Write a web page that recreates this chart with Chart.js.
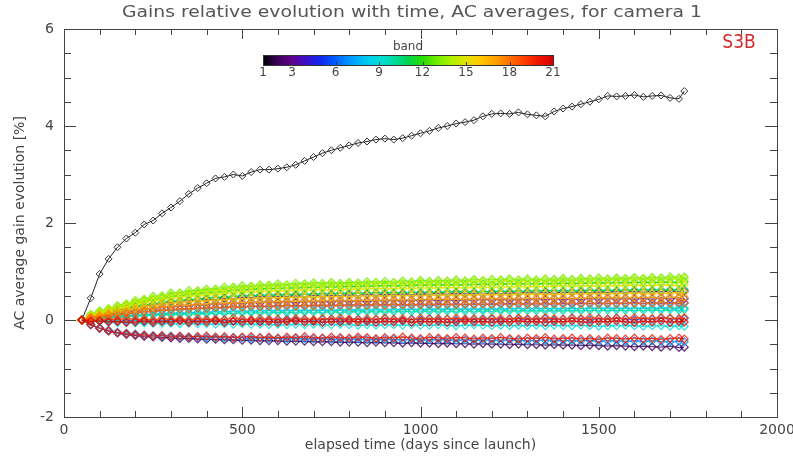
<!DOCTYPE html>
<html>
<head>
<meta charset="utf-8">
<script src="https://cdn.jsdelivr.net/npm/chart.js@4/dist/chart.umd.min.js"></script>
<style>
  html, body { margin: 0; padding: 0; background: #fff; }
</style>
</head>
<body>
<canvas id="gainChart" width="793" height="459"></canvas>
<script>
// elapsed time (days since launch), shared by all bands
const days = [50, 75, 100, 125, 150, 175, 200, 225, 250, 275,
  300, 325, 350, 375, 400, 425, 450, 475, 500, 525,
  550, 575, 600, 625, 650, 675, 700, 725, 750, 775,
  800, 825, 850, 875, 900, 925, 950, 975, 1000, 1025,
  1050, 1075, 1100, 1125, 1150, 1175, 1200, 1225, 1250, 1275,
  1300, 1325, 1350, 1375, 1400, 1425, 1450, 1475, 1500, 1525,
  1550, 1575, 1600, 1625, 1650, 1675, 1700, 1725, 1740];

// AC average gain evolution [%] per band
const band1 = [0, 0.45, 0.95, 1.26, 1.5, 1.68, 1.8, 1.97, 2.05, 2.2,
  2.32, 2.45, 2.6, 2.72, 2.82, 2.92, 2.95, 3.0, 2.97, 3.05,
  3.1, 3.1, 3.12, 3.15, 3.2, 3.28, 3.36, 3.44, 3.5, 3.55,
  3.6, 3.65, 3.68, 3.72, 3.74, 3.72, 3.75, 3.8, 3.85, 3.9,
  3.96, 4.0, 4.05, 4.08, 4.12, 4.2, 4.25, 4.26, 4.25, 4.28,
  4.24, 4.22, 4.2, 4.3, 4.36, 4.4, 4.45, 4.5, 4.55, 4.62,
  4.61, 4.62, 4.64, 4.6, 4.62, 4.63, 4.58, 4.56, 4.72];
const band2 = [0, -.10, -.17, -.23, -.27, -.30, -.32, -.34, -.35, -.36,
  -.37, -.38, -.38, -.39, -.40, -.40, -.41, -.41, -.42, -.42,
  -.43, -.43, -.43, -.44, -.44, -.44, -.45, -.45, -.45, -.46,
  -.46, -.46, -.47, -.46, -.47, -.47, -.48, -.47, -.48, -.48,
  -.49, -.48, -.49, -.49, -.50, -.49, -.50, -.50, -.51, -.50,
  -.51, -.51, -.52, -.51, -.52, -.52, -.53, -.52, -.53, -.54,
  -.53, -.54, -.55, -.54, -.55, -.56, -.54, -.57, -.56];
const band3 = [0, .06, .11, .15, .20, .22, .27, .28, .32, .33,
  .37, .37, .40, .40, .43, .42, .45, .44, .47, .46,
  .48, .47, .49, .48, .50, .48, .51, .49, .51, .50,
  .52, .50, .53, .51, .53, .52, .54, .52, .54, .53,
  .55, .53, .55, .54, .55, .53, .56, .54, .56, .55,
  .57, .55, .57, .55, .58, .56, .58, .56, .58, .57,
  .59, .57, .59, .57, .59, .58, .60, .58, .60];
const band4 = [0, .06, .08, .13, .14, .18, .19, .23, .23, .27,
  .27, .30, .29, .32, .31, .34, .33, .35, .34, .37,
  .35, .38, .36, .38, .36, .39, .37, .39, .37, .40,
  .38, .40, .38, .41, .39, .41, .39, .41, .40, .42,
  .40, .42, .40, .42, .41, .43, .41, .43, .41, .43,
  .42, .44, .42, .44, .42, .44, .42, .45, .43, .45,
  .43, .45, .43, .45, .43, .46, .43, .46, .44];
const band5 = [0, .04, .07, .09, .11, .13, .15, .17, .18, .20,
  .21, .22, .23, .24, .24, .25, .26, .27, .27, .28,
  .28, .28, .29, .29, .29, .29, .30, .29, .30, .30,
  .30, .31, .30, .31, .31, .31, .31, .31, .32, .31,
  .32, .32, .32, .32, .32, .33, .32, .33, .33, .33,
  .33, .33, .33, .33, .34, .33, .34, .34, .34, .34,
  .34, .34, .35, .34, .35, .34, .35, .34, .35];
const band6 = [0, -.01, -.02, -.01, -.03, -.02, -.01, -.03, -.02, -.01,
  -.02, .00, -.02, -.01, .01, -.01, .00, -.02, .01, .00,
  -.01, .01, .00, .02, .00, .01, -.01, .01, .02, .00,
  .01, .02, .00, .01, .03, .01, .00, .02, .01, .03,
  .01, .02, .00, .02, .01, .03, .02, .00, .02, .03,
  .01, .02, .03, .01, .02, .04, .02, .01, .03, .02,
  .04, .02, .01, .03, .02, .04, .03, .02, .03];
const band7 = [0, -.09, -.16, -.21, -.25, -.27, -.29, -.31, -.32, -.33,
  -.33, -.34, -.35, -.35, -.36, -.36, -.37, -.36, -.37, -.38,
  -.37, -.38, -.38, -.39, -.38, -.39, -.39, -.38, -.40, -.39,
  -.40, -.39, -.40, -.41, -.40, -.40, -.41, -.40, -.41, -.41,
  -.40, -.41, -.42, -.41, -.42, -.41, -.42, -.42, -.41, -.42,
  -.43, -.42, -.42, -.43, -.42, -.43, -.43, -.42, -.44, -.43,
  -.43, -.44, -.43, -.44, -.43, -.44, -.45, -.44, -.45];
const band8 = [0, .03, .04, .06, .07, .09, .10, .11, .12, .13,
  .14, .14, .15, .16, .16, .17, .17, .18, .18, .18,
  .19, .19, .19, .19, .20, .19, .20, .20, .20, .20,
  .21, .20, .21, .21, .21, .21, .21, .22, .21, .22,
  .22, .22, .22, .22, .22, .22, .23, .22, .23, .23,
  .23, .23, .23, .23, .23, .24, .23, .24, .24, .24,
  .24, .24, .24, .24, .25, .24, .25, .24, .25];
const band9 = [0, -.02, -.03, -.04, -.05, -.05, -.06, -.06, -.07, -.07,
  -.07, -.08, -.07, -.08, -.08, -.09, -.08, -.09, -.08, -.09,
  -.09, -.10, -.09, -.10, -.09, -.10, -.09, -.10, -.10, -.09,
  -.10, -.11, -.10, -.11, -.10, -.10, -.11, -.10, -.11, -.11,
  -.10, -.11, -.12, -.11, -.10, -.11, -.12, -.11, -.12, -.11,
  -.12, -.11, -.12, -.11, -.12, -.12, -.11, -.12, -.13, -.12,
  -.12, -.11, -.12, -.13, -.12, -.12, -.13, -.12, -.13];
const band10 = [0, .02, .04, .05, .06, .07, .08, .09, .10, .11,
  .11, .12, .12, .13, .13, .14, .14, .14, .15, .15,
  .15, .15, .16, .15, .16, .16, .16, .16, .17, .16,
  .17, .17, .17, .17, .17, .17, .18, .17, .18, .18,
  .18, .18, .18, .18, .18, .19, .18, .19, .19, .19,
  .19, .19, .19, .19, .19, .20, .19, .20, .20, .20,
  .20, .20, .20, .20, .21, .20, .21, .20, .21];
const band11 = [0, .07, .12, .17, .20, .24, .28, .31, .33, .36,
  .38, .40, .42, .43, .45, .46, .47, .48, .50, .50,
  .51, .51, .52, .52, .53, .53, .53, .54, .54, .55,
  .55, .55, .55, .56, .56, .56, .56, .57, .57, .57,
  .57, .58, .58, .58, .58, .58, .59, .59, .59, .59,
  .59, .60, .60, .60, .60, .60, .61, .61, .61, .61,
  .61, .61, .62, .62, .62, .62, .62, .62, .63];
const band12 = [0, .09, .15, .20, .26, .30, .35, .39, .42, .45,
  .49, .50, .53, .55, .56, .58, .59, .61, .62, .63,
  .64, .65, .65, .66, .66, .67, .67, .68, .68, .69,
  .69, .69, .70, .70, .71, .70, .71, .71, .72, .72,
  .72, .73, .72, .73, .73, .74, .73, .74, .74, .75,
  .74, .75, .75, .75, .76, .75, .76, .76, .77, .76,
  .77, .77, .77, .78, .77, .78, .78, .77, .79];
const band13 = [0, .12, .19, .23, .30, .33, .41, .43, .49, .50,
  .56, .56, .61, .61, .64, .64, .68, .68, .71, .70,
  .73, .72, .75, .73, .76, .75, .77, .76, .78, .76,
  .78, .77, .79, .78, .80, .78, .81, .79, .82, .80,
  .82, .81, .83, .81, .84, .82, .84, .83, .85, .83,
  .85, .83, .85, .84, .86, .84, .86, .85, .87, .85,
  .87, .86, .88, .86, .88, .87, .89, .87, .89];
const band14 = [0, .10, .17, .24, .27, .33, .37, .43, .45, .49,
  .52, .55, .56, .59, .60, .62, .63, .66, .66, .68,
  .69, .70, .70, .71, .71, .72, .73, .72, .74, .73,
  .75, .74, .75, .76, .75, .76, .77, .76, .78, .77,
  .78, .78, .79, .78, .80, .79, .79, .80, .81, .79,
  .81, .80, .82, .80, .82, .81, .82, .83, .82, .83,
  .83, .82, .84, .83, .84, .83, .85, .84, .85];
const band15 = [0, .08, .14, .19, .24, .28, .32, .36, .39, .42,
  .45, .47, .49, .50, .52, .53, .55, .56, .58, .58,
  .59, .60, .61, .60, .61, .62, .62, .63, .62, .63,
  .63, .64, .64, .65, .64, .65, .66, .65, .66, .66,
  .66, .67, .67, .66, .68, .67, .68, .68, .68, .69,
  .69, .69, .69, .70, .70, .70, .70, .71, .70, .71,
  .71, .71, .72, .71, .72, .72, .72, .71, .73];
const band16 = [0, .07, .10, .16, .17, .22, .24, .28, .29, .33,
  .34, .37, .37, .40, .39, .42, .41, .44, .43, .45,
  .45, .46, .46, .47, .46, .48, .47, .48, .48, .49,
  .48, .50, .49, .50, .49, .51, .50, .51, .50, .52,
  .51, .52, .51, .52, .52, .53, .52, .53, .52, .54,
  .53, .54, .53, .54, .53, .55, .54, .55, .54, .55,
  .54, .56, .55, .56, .55, .56, .55, .57, .56];
const band17 = [0, .05, .10, .12, .16, .17, .21, .22, .25, .26,
  .29, .29, .31, .31, .33, .33, .35, .34, .36, .36,
  .37, .37, .38, .37, .39, .38, .39, .39, .40, .39,
  .40, .40, .41, .40, .41, .41, .42, .41, .42, .42,
  .43, .42, .43, .42, .43, .43, .44, .43, .44, .43,
  .44, .44, .45, .44, .45, .44, .45, .45, .46, .45,
  .46, .45, .46, .46, .46, .45, .47, .46, .47];
const band18 = [0, .05, .06, .10, .10, .14, .14, .18, .17, .21,
  .20, .23, .22, .25, .23, .26, .25, .28, .26, .29,
  .27, .29, .28, .30, .28, .30, .29, .31, .29, .31,
  .29, .32, .30, .32, .30, .32, .31, .32, .31, .33,
  .31, .33, .31, .33, .32, .33, .32, .34, .32, .34,
  .32, .34, .33, .34, .33, .35, .33, .35, .33, .35,
  .34, .35, .34, .35, .34, .36, .34, .36, .35];
const band19 = [0, .01, .00, .02, .01, .03, .01, .02, .00, .03,
  .01, .02, .00, .03, .01, .02, .01, .04, .02, .01,
  .03, .01, .02, .00, .03, .02, .01, .03, .02, .04,
  .02, .01, .03, .02, .04, .02, .03, .01, .04, .02,
  .03, .02, .04, .02, .03, .01, .04, .03, .02, .04,
  .03, .02, .05, .03, .02, .04, .03, .05, .03, .02,
  .04, .03, .05, .04, .03, .05, .04, .03, .05];
const band20 = [0, -.10, -.17, -.22, -.26, -.28, -.30, -.31, -.33, -.32,
  -.34, -.33, -.35, -.34, -.33, -.35, -.34, -.36, -.35, -.34,
  -.36, -.35, -.37, -.35, -.36, -.34, -.36, -.37, -.35, -.36,
  -.37, -.35, -.36, -.38, -.36, -.37, -.35, -.37, -.38, -.36,
  -.37, -.38, -.36, -.37, -.39, -.37, -.38, -.36, -.38, -.39,
  -.37, -.38, -.36, -.39, -.38, -.37, -.39, -.38, -.40, -.37,
  -.38, -.39, -.37, -.39, -.38, -.40, -.38, -.37, -.39];
const band21 = [0, -.03, -.02, -.04, -.03, -.05, -.04, -.02, -.05, -.03,
  -.04, -.02, -.05, -.03, -.04, -.02, -.05, -.03, -.04, -.02,
  -.04, -.03, -.05, -.03, -.02, -.04, -.03, -.05, -.03, -.04,
  -.02, -.04, -.03, -.05, -.03, -.04, -.02, -.05, -.03, -.04,
  -.03, -.05, -.04, -.02, -.04, -.03, -.05, -.03, -.04, -.02,
  -.04, -.03, -.05, -.03, -.04, -.02, -.04, -.05, -.03, -.04,
  -.02, -.04, -.05, -.03, -.04, -.02, -.05, -.03, -.04];

const bands = [band1, band2, band3, band4, band5, band6, band7, band8, band9, band10,
  band11, band12, band13, band14, band15, band16, band17, band18, band19, band20, band21];

// rainbow colour table, one entry per band
const bandColors = ['#000000', '#3c0058', '#620090', '#3a10c8', '#1028f0', '#0060ff', '#0098ff',
  '#00c4f4', '#00dcdc', '#00dca0', '#00d450', '#28dc00', '#70ec00', '#b0f000', '#e0e400',
  '#ffc800', '#ffa000', '#ff7000', '#ff4000', '#f01400', '#d80000'];
const barTicks = [1, 3, 6, 9, 12, 15, 18, 21];

const xTickLabels = [0, 500, 1000, 1500, 2000];
const yTickLabels = [-2, 0, 2, 4, 6];

const textColor = '#444';
const fontFamily = '"DejaVu Sans", sans-serif';

// hollow diamonds joined by thin lines, band 21 drawn last (on top)
const datasets = bands.map((vals, i) => ({
  label: 'band ' + (i + 1),
  data: days.map((d, k) => ({ x: d, y: vals[k] })),
  borderColor: i === 0 ? '#222' : bandColors[i] + 'c8',
  pointBorderColor: i === 0 ? '#333' : bandColors[i] + 'c8',
  pointBackgroundColor: 'rgba(255,255,255,0)',
  pointStyle: 'rectRot',
  pointRadius: i === 0 ? 3.5 : 3.8,
  pointBorderWidth: i === 0 ? 1 : 1.3,
  borderWidth: i === 0 ? 1 : 1.2,
  order: bands.length - i
}));

// box, inside ticks, colour bar, title and the S3B mark
const decorPlugin = {
  id: 'decor',
  afterDraw(chart) {
    const { ctx, chartArea: a, scales: { x, y } } = chart;
    ctx.save();
    ctx.strokeStyle = '#444';
    ctx.lineWidth = 1;
    ctx.strokeRect(Math.round(a.left) + 0.5, Math.round(a.top) + 0.5,
      Math.round(a.width), Math.round(a.height));

    ctx.beginPath();
    for (let v = 0; v <= 2000; v += 100) {
      const px = Math.round(x.getPixelForValue(v)) + 0.5;
      const len = v % 500 === 0 ? 10 : 6;
      ctx.moveTo(px, a.bottom); ctx.lineTo(px, a.bottom - len);
      ctx.moveTo(px, a.top); ctx.lineTo(px, a.top + len);
    }
    for (let k = 0; k <= 16; k++) {
      const v = -2 + k * 0.5;
      const py = Math.round(y.getPixelForValue(v)) + 0.5;
      const len = k % 4 === 0 ? 12 : 7;
      ctx.moveTo(a.left, py); ctx.lineTo(a.left + len, py);
      ctx.moveTo(a.right, py); ctx.lineTo(a.right - len, py);
    }
    ctx.stroke();

    // colour bar
    const bx0 = 263, bx1 = 553, by = 55, bh = 10;
    const grad = ctx.createLinearGradient(bx0, 0, bx1, 0);
    bandColors.forEach((c, i) => grad.addColorStop(i / (bandColors.length - 1), c));
    ctx.fillStyle = grad;
    ctx.fillRect(bx0, by, bx1 - bx0, bh);
    ctx.strokeStyle = '#333';
    ctx.strokeRect(bx0 + 0.5, by + 0.5, bx1 - bx0, bh);
    ctx.fillStyle = textColor;
    ctx.font = '12px ' + fontFamily;
    ctx.textAlign = 'center';
    ctx.textBaseline = 'middle';
    ctx.beginPath();
    barTicks.forEach(t => {
      const px = bx0 + (t - 1) / 20 * (bx1 - bx0);
      ctx.moveTo(Math.round(px) + 0.5, by + bh);
      ctx.lineTo(Math.round(px) + 0.5, by + bh - 3);
      ctx.fillText(String(t), px, 73);
    });
    ctx.stroke();
    ctx.fillText('band', (bx0 + bx1) / 2, 47);

    // title, stretched to the reference width
    ctx.font = '16px ' + fontFamily;
    ctx.fillStyle = '#555';
    const title = 'Gains relative evolution with time, AC averages, for camera 1';
    const tw = ctx.measureText(title).width;
    ctx.save();
    ctx.translate(412, 13);
    ctx.scale(580 / tw, 1);
    ctx.fillText(title, 0, 0);
    ctx.restore();

    ctx.font = '19px "Liberation Sans Narrow", "DejaVu Sans Condensed", sans-serif';
    ctx.fillStyle = '#d42a2a';
    ctx.fillText('S3B', 739, 43);
    ctx.restore();
  }
};

new Chart(document.getElementById('gainChart'), {
  type: 'line',
  data: { datasets: datasets },
  plugins: [decorPlugin],
  options: {
    responsive: false,
    animation: false,
    layout: { padding: { top: 29, right: 16, bottom: 0, left: 0 } },
    plugins: {
      legend: { display: false },
      tooltip: { enabled: false }
    },
    scales: {
      x: {
        type: 'linear',
        min: 0,
        max: 2000,
        afterFit: s => { s.height = 42; s.paddingLeft = 0; s.paddingRight = 0; },
        afterBuildTicks: s => { s.ticks = xTickLabels.map(v => ({ value: v })); },
        grid: { display: false, drawTicks: false },
        border: { display: false },
        ticks: {
          padding: 5,
          color: textColor,
          font: { family: fontFamily, size: 14 },
          callback: v => String(v)
        },
        title: {
          display: true,
          text: 'elapsed time (days since launch)',
          color: textColor,
          font: { family: fontFamily, size: 14 },
          padding: { top: 0, bottom: 5 }
        }
      },
      y: {
        min: -2,
        max: 6,
        afterFit: s => { s.width = 64; s.paddingTop = 0; s.paddingBottom = 0; },
        afterBuildTicks: s => { s.ticks = yTickLabels.map(v => ({ value: v })); },
        grid: { display: false, drawTicks: false },
        border: { display: false },
        ticks: {
          padding: 10,
          color: textColor,
          font: { family: fontFamily, size: 14 },
          callback: v => String(v)
        },
        title: {
          display: true,
          text: 'AC average gain evolution [%]',
          color: textColor,
          font: { family: fontFamily, size: 14 },
          padding: { top: 12, bottom: 0 }
        }
      }
    }
  }
});
</script>
</body>
</html>
